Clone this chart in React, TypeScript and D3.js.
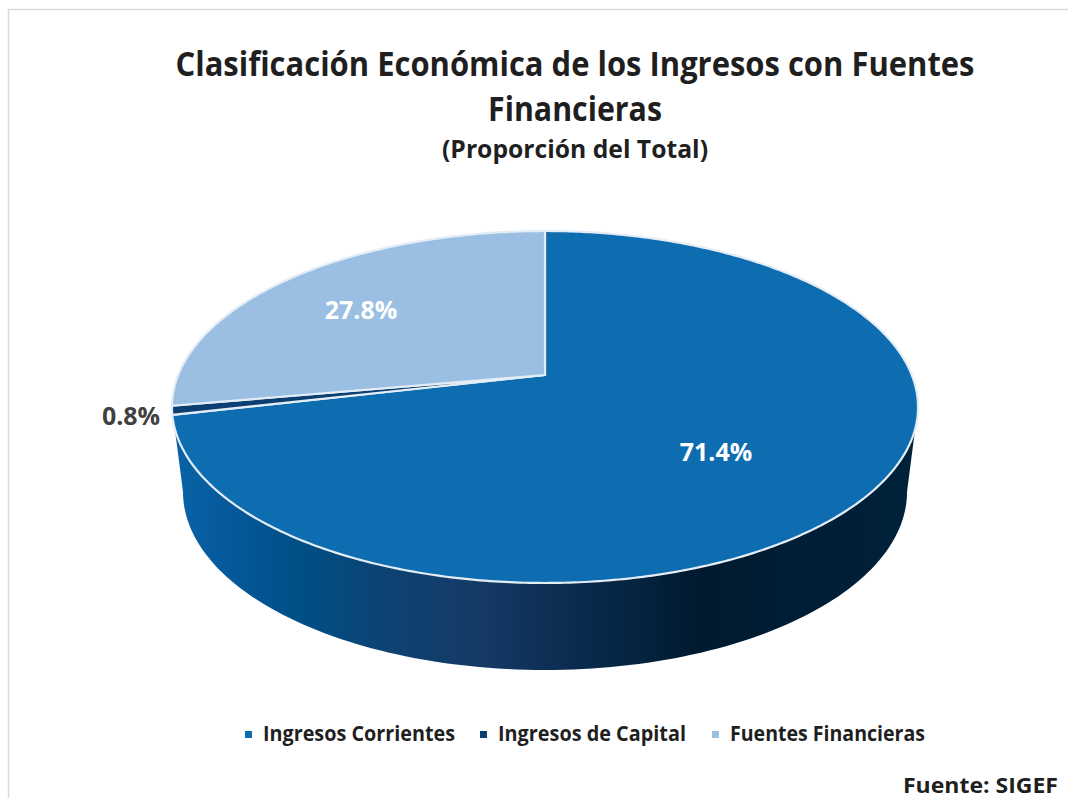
import React from "react";
import * as d3 from "d3";

const categories = ["Ingresos Corrientes", "Ingresos de Capital", "Fuentes Financieras"];
const values = [71.4, 0.8, 27.8];
const valueLabels = ["71.4%", "0.8%", "27.8%"];
const colors = ["#0e6cb0", "#0b3f72", "#9bbfe3"];
const titleLines = ["Clasificación Económica de los Ingresos con Fuentes", "Financieras"];
const subtitle = "(Proporción del Total)";
const source = "Fuente: SIGEF";
const sideStops: [number, string][] = [
  [0, "#0a64a8"], [0.08, "#05589a"], [0.17, "#004f86"], [0.29, "#0d4273"], [0.41, "#153a66"],
  [0.53, "#0c2c50"], [0.63, "#03233f"], [0.7, "#001a2f"], [1, "#00223b"],
];

const FONT = "'Open Sans', sans-serif";
const cx = 545;
const apexY = 375;
const pA = 102;
const pC = -0.1818;
const pR = 366.8;

// Perspective projection of a unit-circle point (angle clockwise from top) onto the page.
const project = (a: number, r = 1): [number, number] => {
  const u = Math.sin(a) * r;
  const v = -Math.cos(a) * r;
  const w = 1 + pC * v;
  return [cx + (pR * u) / w, (pA * v + apexY) / w];
};

const pie = d3.pie<number>().sort(null).value((d) => d);
const arcs = pie(values);
const line = d3.line();

const slicePath = (start: number, end: number) => {
  const n = Math.max(4, Math.ceil((end - start) * 90));
  const pts = d3.range(n + 1).map((i) => project(start + ((end - start) * i) / n));
  return line([project(0, 0), ...pts])! + "Z";
};

// Lower rim of the extruded base.
const baseRx = 362, baseRy = 178, baseCy = 492;
const rimPts = d3.range(0, 121).map((i): [number, number] => {
  const t = (Math.PI * i) / 120;
  return [cx - baseRx * Math.cos(t), baseCy + baseRy * Math.sin(t)];
});
const sidePath = line([[172, 407], ...rimPts, [918, 407]])! + "Z";

const xSide = d3.scaleLinear().domain([0, 1]).range([172, 918]);

const legendX = [263, 498, 730];
const legendW = [192, 188, 195];
const titleW = [799, 174];
const labelPos: [number, number, string][] = [
  [716, 461, "#ffffff"],
  [131, 425, "#404040"],
  [361, 319, "#ffffff"],
];

export default function App() {
  return (
    <svg width={1068} height={798} style={{ position: "absolute", left: 0, top: 0, background: "#fff" }} fontFamily={FONT}>
      <defs>
        <linearGradient id="side" gradientUnits="userSpaceOnUse" x1={xSide(0)} x2={xSide(1)} y1={0} y2={0}>
          {sideStops.map(([o, c]) => <stop key={o} offset={o} stopColor={c} />)}
        </linearGradient>
      </defs>
      <path d="M8.5 798V9.5H1068" fill="none" stroke="#d9d9d9" strokeWidth={1.5} />
      {titleLines.map((t, i) => (
        <text key={t} x={575} y={76 + i * 45} textAnchor="middle" fontSize={34} fontWeight={700} fill="#1f1f1f" textLength={titleW[i]} lengthAdjust="spacingAndGlyphs">{t}</text>
      ))}
      <text x={575} y={158} textAnchor="middle" fontSize={25} fontWeight={700} fill="#1f1f1f" textLength={266} lengthAdjust="spacingAndGlyphs">{subtitle}</text>
      <path d={sidePath} fill="url(#side)" />
      {arcs.map((a, i) => (
        <path key={i} d={slicePath(a.startAngle, a.endAngle)} fill={colors[i]} stroke="#e4edf6" strokeWidth={2.2} strokeLinejoin="round" />
      ))}
      {arcs.map((a, i) => (
        <text key={i} x={labelPos[i][0]} y={labelPos[i][1]} textAnchor="middle" fontSize={25} fontWeight={700} fill={labelPos[i][2]}>{valueLabels[i]}</text>
      ))}
      {categories.map((c, i) => (
        <g key={c}>
          <rect x={legendX[i] - 18} y={731} width={7} height={7} fill={colors[i]} />
          <text x={legendX[i]} y={741} fontSize={21} fontWeight={700} fill="#1f1f1f" textLength={legendW[i]} lengthAdjust="spacingAndGlyphs">{c}</text>
        </g>
      ))}
      <text x={903} y={793} fontSize={21} fontWeight={700} fill="#1f1f1f" textLength={155} lengthAdjust="spacingAndGlyphs">{source}</text>
    </svg>
  );
}
